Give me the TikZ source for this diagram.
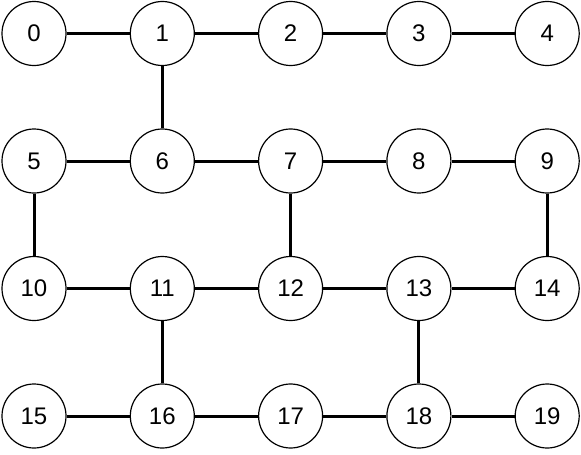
\documentclass[tikz,border=0pt]{standalone}
\usepackage{fontspec}
\setmainfont{Liberation Sans}
\usetikzlibrary{positioning}

\begin{document}
\begin{tikzpicture}[x=1pt, y=-1pt,
    vert/.style={draw, circle, line width=1.2pt, minimum size=64pt, inner sep=0pt, font=\fontsize{24}{26}\selectfont},
    link/.style={line width=3pt}]
        \useasboundingbox (0, 0) rectangle (581, 455);

        % Row 0
        \node[vert] (n0) at (34, 33.5) {0};
        \node[vert] (n1) at (162.3, 33.5) {1};
        \node[vert] (n2) at (290.6, 33.5) {2};
        \node[vert] (n3) at (418.9, 33.5) {3};
        \node[vert] (n4) at (547.2, 33.5) {4};

        % Row 1
        \node[vert] (n5) at (34, 161) {5};
        \node[vert] (n6) at (162.3, 161) {6};
        \node[vert] (n7) at (290.6, 161) {7};
        \node[vert] (n8) at (418.9, 161) {8};
        \node[vert] (n9) at (547.2, 161) {9};

        % Row 2
        \node[vert] (n10) at (34, 288.5) {10};
        \node[vert] (n11) at (162.3, 288.5) {11};
        \node[vert] (n12) at (290.6, 288.5) {12};
        \node[vert] (n13) at (418.9, 288.5) {13};
        \node[vert] (n14) at (547.2, 288.5) {14};

        % Row 3
        \node[vert] (n15) at (34, 416) {15};
        \node[vert] (n16) at (162.3, 416) {16};
        \node[vert] (n17) at (290.6, 416) {17};
        \node[vert] (n18) at (418.9, 416) {18};
        \node[vert] (n19) at (547.2, 416) {19};

        % Edges
        \draw[link] (n0) -- (n1);
        \draw[link] (n1) -- (n2);
        \draw[link] (n2) -- (n3);
        \draw[link] (n3) -- (n4);
        \draw[link] (n1) -- (n6);
        \draw[link] (n5) -- (n6);
        \draw[link] (n6) -- (n7);
        \draw[link] (n7) -- (n8);
        \draw[link] (n8) -- (n9);
        \draw[link] (n5) -- (n10);
        \draw[link] (n7) -- (n12);
        \draw[link] (n9) -- (n14);
        \draw[link] (n10) -- (n11);
        \draw[link] (n11) -- (n12);
        \draw[link] (n12) -- (n13);
        \draw[link] (n13) -- (n14);
        \draw[link] (n11) -- (n16);
        \draw[link] (n13) -- (n18);
        \draw[link] (n15) -- (n16);
        \draw[link] (n16) -- (n17);
        \draw[link] (n17) -- (n18);
        \draw[link] (n18) -- (n19);
    \end{tikzpicture}
\end{document}
